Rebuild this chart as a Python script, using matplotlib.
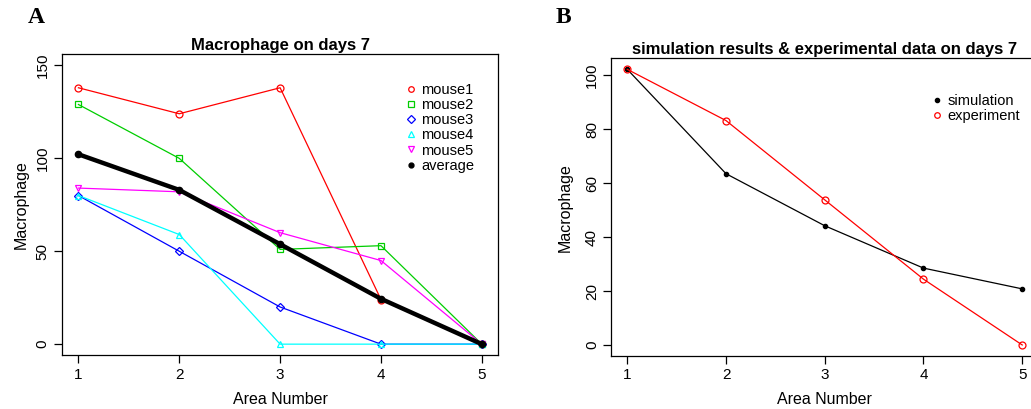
import matplotlib
matplotlib.use("Agg")
import matplotlib.pyplot as plt
from matplotlib.lines import Line2D

plt.rcParams['font.family'] = ['Liberation Sans', 'DejaVu Sans']

areas = [1, 2, 3, 4, 5]

# panel A: five mice and their average
mouse1 = [138, 124, 138, 24, 0]
mouse2 = [129, 100, 51, 53, 0]
mouse3 = [80, 50, 20, 0, 0]
mouse4 = [80, 59, 0, 0, 0]
mouse5 = [84, 82, 60, 45, 0]
average = [102.2, 83, 53.8, 24.4, 0]

# panel B: simulation vs experiment
simulation = [102.2, 63.5, 44.2, 28.5, 20.8]
experiment = [102.2, 83.2, 53.8, 24.4, 0]

fig = plt.figure(figsize=(10.31, 4.09), dpi=100)

axA = fig.add_axes([0.0604, 0.1313, 0.4226, 0.7359])
axB = fig.add_axes([0.5931, 0.1296, 0.4137, 0.7279])

mice = [mouse1, mouse2, mouse3, mouse4, mouse5]
cols = ['#FF0000', '#00CD00', '#0000FF', '#00FFFF', '#FF00FF']
marks = ['o', 's', 'D', '^', 'v']
msz = [5, 4.5, 4.5, 5, 5]
names = ['mouse1', 'mouse2', 'mouse3', 'mouse4', 'mouse5']

for vals, c, m, s in zip(mice, cols, marks, msz):
    axA.plot(areas, vals, color=c, lw=0.9, marker=m, ms=s, mfc='none', mec=c, mew=0.9)
axA.plot(areas, average, color='black', lw=3.2, marker='o', ms=4.5, mfc='black', mec='black')

axA.set_xlim(0.84, 5.16)
axA.set_ylim(-6, 156)
axA.set_xticks(areas)
axA.set_yticks([0, 50, 100, 150])
axA.set_title("Macrophage on days 7", fontsize=12, fontweight='bold', pad=3)
axA.set_xlabel("Area Number", fontsize=11.5, labelpad=7)
axA.set_ylabel("Macrophage", fontsize=11.5, labelpad=5)

handles = [Line2D([], [], ls='none', marker=m, ms=4, mfc='none', mec=c, mew=0.9)
           for c, m in zip(cols, marks)]
handles.append(Line2D([], [], ls='none', marker='o', ms=3.5, mfc='black', mec='black'))
axA.legend(handles, names + ['average'], loc='upper left', bbox_to_anchor=(0.79, 0.905),
           frameon=False, fontsize=10.5, handlelength=0.6, handletextpad=0.4,
           labelspacing=0.08, borderpad=0, borderaxespad=0)

axB.plot(areas, simulation, color='black', lw=0.9, marker='o', ms=3, mfc='black', mec='black')
axB.plot(areas, experiment, color='#FF0000', lw=0.9, marker='o', ms=5, mfc='none', mec='#FF0000', mew=0.9)
axB.set_xlim(0.84, 5.16)
axB.set_ylim(-4.09, 106.3)
axB.set_xticks(areas)
axB.set_yticks([0, 20, 40, 60, 80, 100])
axB.set_title("simulation results & experimental data on days 7", fontsize=12,
              fontweight='bold', pad=3)
axB.set_xlabel("Area Number", fontsize=11.5, labelpad=7)
axB.set_ylabel("Macrophage", fontsize=11.5, labelpad=9)

hB = [Line2D([], [], ls='none', marker='o', ms=3, mfc='black', mec='black'),
      Line2D([], [], ls='none', marker='o', ms=4, mfc='none', mec='#FF0000', mew=0.9)]
axB.legend(hB, ['simulation', 'experiment'], loc='upper left', bbox_to_anchor=(0.754, 0.88),
           frameon=False, fontsize=10.5, handlelength=0.6, handletextpad=0.4,
           labelspacing=0.08, borderpad=0, borderaxespad=0)

for ax in (axA, axB):
    ax.tick_params(direction='out', length=6, width=0.9, labelsize=11, pad=3)
    for lbl in ax.get_yticklabels():
        lbl.set_rotation(90)
        lbl.set_va('center')
    for sp in ax.spines.values():
        sp.set_linewidth(0.9)

fig.text(0.027, 0.958, "A", family='Liberation Serif', fontweight='bold', fontsize=17,
         va='center', ha='left')
fig.text(0.539, 0.958, "B", family='Liberation Serif', fontweight='bold', fontsize=17,
         va='center', ha='left')

fig.savefig("out.png", dpi=100)
